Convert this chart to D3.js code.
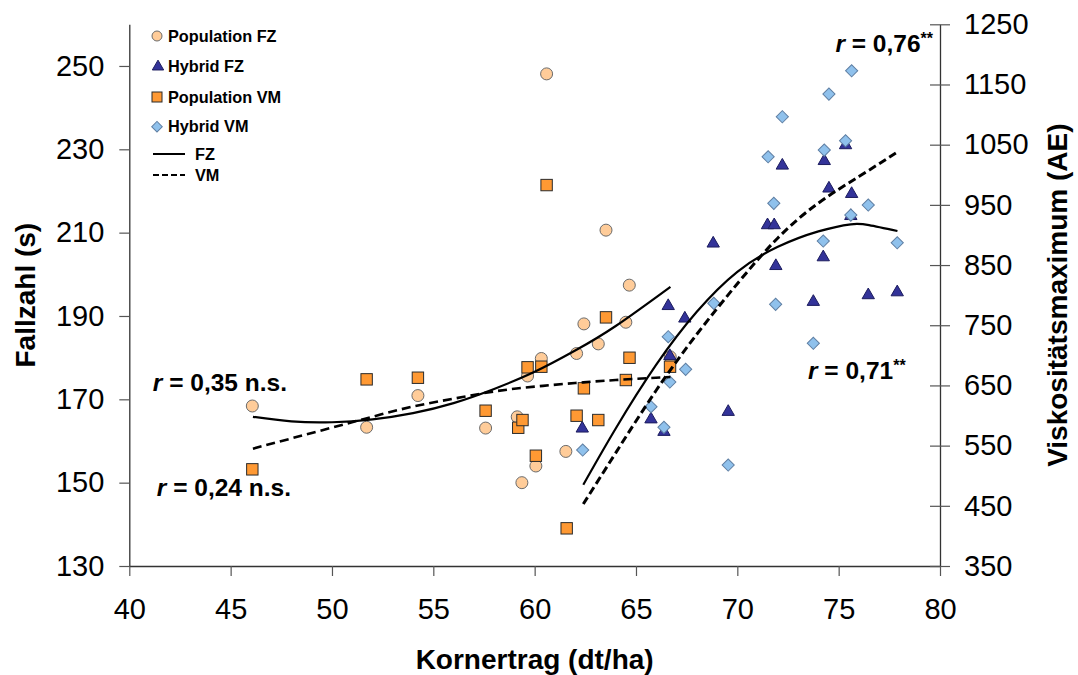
<!DOCTYPE html>
<html>
<head>
<meta charset="utf-8">
<script src="https://cdn.jsdelivr.net/npm/d3@7"></script>
<style>
    body { margin: 0; background: #fff; }
    svg { display: block; font-family: "Liberation Sans", Arial, sans-serif; }
    .tick text { font-size: 29px; fill: #000; }
    .title { font-size: 28px; font-weight: bold; }
    .legend text { font-size: 16.3px; font-weight: bold; }
    .note { font-size: 24.5px; font-weight: bold; }
</style>
</head>
<body>
<svg width="1078" height="675"></svg>
<script>
// --- DATA ---
// Population (same yield for FZ and VM)
const popX  = [46.07, 51.71, 54.24, 57.58, 59.14, 59.37, 59.65, 60.06, 60.33, 60.59, 61.54, 62.07, 62.43, 63.14, 63.52, 64.50, 64.67, 66.69];
const popFZ = [168.4, 163.3, 170.9, 163.1, 165.8, 150.0, 175.6, 154.0, 179.8, 248.1, 157.5, 181.0, 188.1, 183.3, 210.6, 188.5, 197.4, 180.2];
const popVMx = [46.07, 51.71, 54.24, 57.58, 59.19, 59.40, 59.65, 60.06, 60.33, 60.59, 61.58, 62.07, 62.43, 63.14, 63.52, 64.50, 64.68, 66.68];
const popVM  = [510.6, 660.1, 662.8, 608.0, 579.7, 592.5, 680.1, 533.2, 681.1, 982.9, 412.6, 599.7, 645.2, 592.5, 763.1, 659.0, 696.0, 681.1];

// Hybrids
const hybX  = [62.35, 65.74, 66.38, 66.59, 66.67, 67.41, 68.81, 69.55, 71.49, 71.82, 71.90, 72.22, 73.75, 74.24, 74.29, 74.52, 75.34, 75.60, 75.64, 76.46, 77.89];
const hybFZ = [163.0, 165.2, 162.2, 192.4, 180.4, 189.4, 207.4, 167.0, 211.8, 211.8, 202.0, 226.1, 193.4, 204.1, 227.2, 220.6, 231.0, 214.0, 219.3, 195.0, 195.7];
const hybVMx = [62.37, 65.74, 66.38, 66.59, 66.67, 67.45, 68.84, 69.55, 71.52, 71.80, 71.89, 72.22, 73.75, 74.24, 74.29, 74.52, 75.34, 75.60, 75.64, 76.46, 77.89];
const hybVM  = [542.7, 614.6, 580.4, 730.9, 655.6, 676.7, 786.4, 517.8, 1029.9, 952.5, 784.7, 1096.4, 720.0, 889.9, 1041.0, 1134.0, 1056.5, 933.0, 1172.8, 949.7, 887.0];

// Trend lines
const trendPopFZx = [46.1, 48, 50, 52, 54, 56, 58, 60, 62, 64, 66.7];
const trendPopFZ  = [165.8, 164.7, 164.5, 165.2, 166.7, 169.1, 172.5, 176.6, 181.7, 187.6, 197.0];
const trendPopVMx = [46.1, 48, 50, 52, 54, 56, 58, 60, 62, 64, 66.7];
const trendPopVM  = [545, 562, 580, 598, 615, 628, 640, 648, 654, 659, 664];
const trendHybFZx = [62.4, 64, 66, 68, 70, 72, 74, 75.6, 76.5, 77.9];
const trendHybFZ  = [149.5, 163, 178.3, 191, 200.6, 206.6, 210.3, 212, 211.8, 210.4];
const trendHybVMx = [62.4, 64, 66, 68, 70, 72, 74, 76, 77.9];
const trendHybVM  = [453, 538, 642, 735, 819, 895, 953, 997, 1038];

const xTicks = [40, 45, 50, 55, 60, 65, 70, 75, 80];
const fzTicks = [130, 150, 170, 190, 210, 230, 250];
const vmTicks = [350, 450, 550, 650, 750, 850, 950, 1050, 1150, 1250];

// --- SETUP ---
const svg = d3.select('svg');
const plotLeft = 129.3, plotRight = 940, plotTop = 24.3, plotBottom = 566;

const x = d3.scaleLinear().domain([40, 80]).range([plotLeft, plotRight]);
const yL = d3.scaleLinear().domain([130, 260]).range([plotBottom, plotTop]);
const yR = d3.scaleLinear().domain([350, 1250]).range([plotBottom, plotTop]);

// --- AXES ---
const axisColor = '#333';

const xAxis = svg.append('g')
    .attr('transform', `translate(0,${plotBottom})`)
    .call(d3.axisBottom(x).tickValues(xTicks).tickSize(10).tickSizeOuter(0).tickPadding(22));

const lAxis = svg.append('g')
    .attr('transform', `translate(${plotLeft},0)`)
    .call(d3.axisLeft(yL).tickValues(fzTicks).tickSize(10).tickSizeOuter(0).tickPadding(15));

const rAxis = svg.append('g')
    .attr('transform', `translate(${plotRight},0)`)
    .call(d3.axisRight(yR).tickValues(vmTicks).tickFormat(d3.format('d'))
        .tickSize(10).tickSizeOuter(0).tickPadding(14));
rAxis.selectAll('.tick line').attr('x1', -10);

[xAxis, lAxis, rAxis].forEach(a => {
    a.attr('font-size', null).attr('font-family', null);
    a.select('.domain').attr('stroke', axisColor).attr('stroke-width', 1.3);
    a.selectAll('.tick line').attr('stroke', '#555').attr('stroke-width', 1.2);
});

// axis titles
svg.append('text').attr('class', 'title')
    .attr('x', (plotLeft + plotRight) / 2).attr('y', 669)
    .attr('text-anchor', 'middle')
    .text('Kornertrag (dt/ha)');

svg.append('text').attr('class', 'title')
    .attr('transform', `translate(35,${(plotTop + plotBottom) / 2}) rotate(-90)`)
    .attr('text-anchor', 'middle')
    .text('Fallzahl (s)');

svg.append('text').attr('class', 'title')
    .attr('transform', `translate(1067,${(plotTop + plotBottom) / 2}) rotate(-90)`)
    .attr('text-anchor', 'middle')
    .text('Viskositätsmaximum (AE)');

// --- MARKERS ---
const marks = svg.append('g');
const tri = d3.symbol(d3.symbolTriangle, 66)();
const dia = d3.symbol(d3.symbolSquare, 74)();

marks.append('g').selectAll('circle')
    .data(popX.map((v, i) => [v, popFZ[i]]))
    .enter().append('circle')
    .attr('cx', d => x(d[0])).attr('cy', d => yL(d[1]))
    .attr('r', 6)
    .attr('fill', '#FFCC99').attr('stroke', '#6b6b6b').attr('stroke-width', 1);

marks.append('g').selectAll('path')
    .data(hybX.map((v, i) => [v, hybFZ[i]]))
    .enter().append('path')
    .attr('d', tri)
    .attr('transform', d => `translate(${x(d[0])},${yL(d[1])})`)
    .attr('fill', '#333399').attr('stroke', '#1c1c5e').attr('stroke-width', 1);

marks.append('g').selectAll('rect')
    .data(popVMx.map((v, i) => [v, popVM[i]]))
    .enter().append('rect')
    .attr('x', d => x(d[0]) - 5.7).attr('y', d => yR(d[1]) - 5.7)
    .attr('width', 11.4).attr('height', 11.4)
    .attr('fill', '#FF9933').attr('stroke', '#2b2b2b').attr('stroke-width', 1);

marks.append('g').selectAll('path')
    .data(hybVMx.map((v, i) => [v, hybVM[i]]))
    .enter().append('path')
    .attr('d', dia)
    .attr('transform', d => `translate(${x(d[0])},${yR(d[1])}) rotate(45)`)
    .attr('fill', '#8FC1EC').attr('stroke', '#5f7fa3').attr('stroke-width', 1);

// --- TREND LINES ---
const lineL = d3.line().x(d => x(d[0])).y(d => yL(d[1])).curve(d3.curveNatural);
const lineR = d3.line().x(d => x(d[0])).y(d => yR(d[1])).curve(d3.curveNatural);
const zip = (a, b) => a.map((v, i) => [v, b[i]]);

const trends = svg.append('g').attr('fill', 'none').attr('stroke', '#000');
trends.append('path').attr('d', lineL(zip(trendPopFZx, trendPopFZ))).attr('stroke-width', 2.2);
trends.append('path').attr('d', lineL(zip(trendHybFZx, trendHybFZ))).attr('stroke-width', 2.2);
trends.append('path').attr('d', lineR(zip(trendPopVMx, trendPopVM)))
    .attr('stroke-width', 2.6).attr('stroke-dasharray', '9,5');
trends.append('path').attr('d', lineR(zip(trendHybVMx, trendHybVM)))
    .attr('stroke-width', 3).attr('stroke-dasharray', '8,4');

// --- LEGEND ---
const legend = svg.append('g').attr('class', 'legend');
const legendRows = [
    { label: 'Population FZ', y: 36, kind: 'circle' },
    { label: 'Hybrid FZ', y: 66.7, kind: 'tri' },
    { label: 'Population VM', y: 97, kind: 'square' },
    { label: 'Hybrid VM', y: 126.7, kind: 'dia' }
];
legendRows.forEach(r => {
    if (r.kind === 'circle') {
        legend.append('circle').attr('cx', 157).attr('cy', r.y).attr('r', 5)
            .attr('fill', '#FFCC99').attr('stroke', '#6b6b6b');
    } else if (r.kind === 'tri') {
        legend.append('path').attr('d', d3.symbol(d3.symbolTriangle, 56)())
            .attr('transform', `translate(158,${r.y})`)
            .attr('fill', '#333399').attr('stroke', '#1c1c5e');
    } else if (r.kind === 'square') {
        legend.append('rect').attr('x', 152).attr('y', r.y - 5).attr('width', 10).attr('height', 10)
            .attr('fill', '#FF9933').attr('stroke', '#2b2b2b');
    } else {
        legend.append('path').attr('d', d3.symbol(d3.symbolSquare, 56)())
            .attr('transform', `translate(157,${r.y}) rotate(45)`)
            .attr('fill', '#8FC1EC').attr('stroke', '#5f7fa3');
    }
    legend.append('text').attr('x', 168).attr('y', r.y + 5.7).text(r.label);
});
legend.append('line').attr('x1', 153).attr('x2', 185).attr('y1', 154).attr('y2', 154)
    .attr('stroke', '#000').attr('stroke-width', 2);
legend.append('text').attr('x', 195).attr('y', 159.7).text('FZ');
legend.append('line').attr('x1', 153).attr('x2', 185).attr('y1', 175).attr('y2', 175)
    .attr('stroke', '#000').attr('stroke-width', 2.2).attr('stroke-dasharray', '6,3');
legend.append('text').attr('x', 195).attr('y', 180.7).text('VM');

// --- CORRELATION NOTES ---
function note(xPos, yPos, value, stars, anchor) {
    const t = svg.append('text').attr('class', 'note')
        .attr('x', xPos).attr('y', yPos).attr('text-anchor', anchor);
    t.append('tspan').attr('font-style', 'italic').text('r');
    t.append('tspan').text(' = ' + value);
    if (stars) {
        t.append('tspan').attr('font-size', '16px').attr('dy', -8).text(stars);
    }
}
note(933, 52, '0,76', '**', 'end');
note(808, 379, '0,71', '**', 'start');
note(287, 391, '0,35 n.s.', null, 'end');
note(291, 496, '0,24 n.s.', null, 'end');
</script>
</body>
</html>
